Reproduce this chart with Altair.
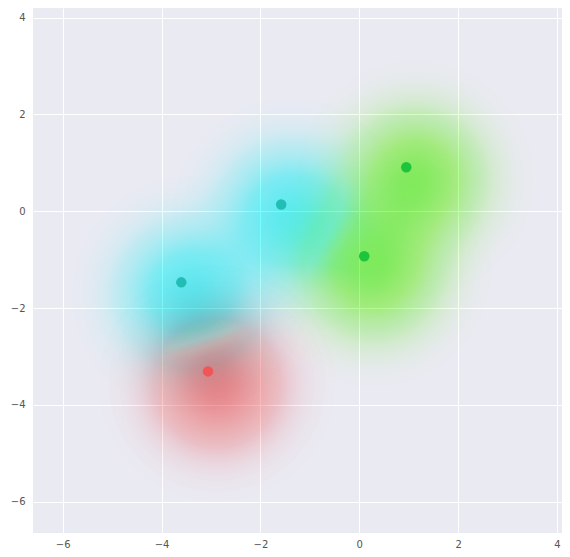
import altair as alt
import pandas as pd
import numpy as np

# data
xs = [-3.06, -3.6, -1.58, 0.1, 0.95]
ys = [-3.31, -1.47, 0.14, -0.93, 0.91]
groups = ["red", "cyan", "cyan", "green", "green"]

group_names = ["red", "cyan", "green"]
halo_colors = ["#ff7474", "#58ffff", "#98ff5e"]
dot_colors = ["#f25555", "#22bdb5", "#1ec43c"]

x_ticks = [-6, -4, -2, 0, 2, 4]
y_ticks = [-6, -4, -2, 0, 2, 4]

pts = pd.DataFrame({"x": xs, "y": ys, "g": groups})

# halo rings (style only: radii in px, Gaussian-like falloff)
sigma = 45.0
n_rings = 80
radii = [sigma * np.sqrt(2 * np.log(n_rings / k)) for k in range(1, n_rings)]
rows = []
for r in radii:
    for xv, yv, g in zip(xs, ys, groups):
        rows.append({"x": xv, "y": yv, "g": g, "s": np.pi * r * r})
halo = pd.DataFrame(rows)

xscale = alt.Scale(domain=[-6.6, 4.1], nice=False, zero=False)
yscale = alt.Scale(domain=[-6.65, 4.2], nice=False, zero=False)

xaxis = alt.Axis(values=x_ticks, title=None, domain=False, ticks=False,
                 gridColor="white", gridWidth=1, gridOpacity=1, labelColor="#555555",
                 labelFontSize=10, labelPadding=6, format="d")
yaxis = alt.Axis(values=y_ticks, title=None, domain=False, ticks=False,
                 gridColor="white", gridWidth=1, gridOpacity=1, labelColor="#555555",
                 labelFontSize=10, labelPadding=8, format="d")

halo_layer = alt.Chart(halo).mark_circle(opacity=0.016, clip=True, xOffset=9, yOffset=12).encode(
    x=alt.X("x:Q", scale=xscale, axis=xaxis),
    y=alt.Y("y:Q", scale=yscale, axis=yaxis),
    size=alt.Size("s:Q", scale=None, legend=None),
    color=alt.Color("g:N", scale=alt.Scale(domain=group_names, range=halo_colors), legend=None),
    order=alt.Order("s:Q", sort="descending"),
)

dot_layer = alt.Chart(pts).mark_circle(opacity=1, size=110, clip=True).encode(
    x=alt.X("x:Q", scale=xscale, axis=xaxis),
    y=alt.Y("y:Q", scale=yscale, axis=yaxis),
    fill=alt.Fill("g:N", scale=alt.Scale(domain=group_names, range=dot_colors), legend=None),
)

chart = alt.layer(halo_layer, dot_layer).resolve_scale(color="independent").properties(
    width=554, height=541,
    autosize=alt.AutoSizeParams(type="fit", contains="padding"),
    padding={"left": 2, "right": 0, "top": 0, "bottom": 0},
).configure(
    font="DejaVu Sans",
    view=alt.ViewConfig(fill="#EAEAF2", stroke=None),
)

chart.save("out.html", embed_options={"renderer": "svg", "actions": False})
